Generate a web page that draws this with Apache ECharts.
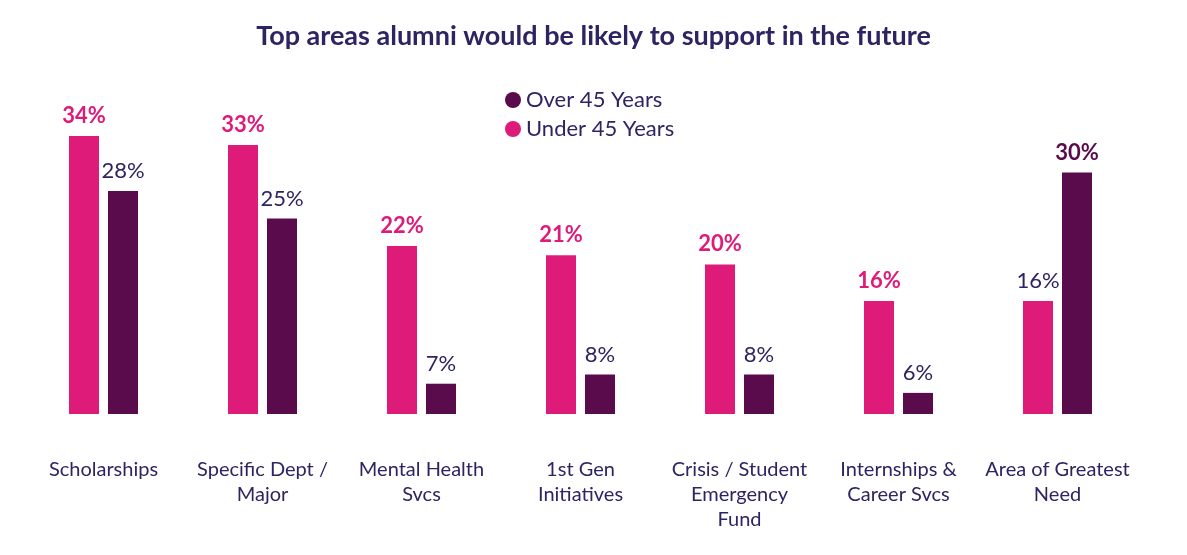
<!DOCTYPE html>
<html lang="en">
<head>
  <meta charset="UTF-8">
  <title>Top areas alumni would support</title>
  <script src="https://cdn.jsdelivr.net/npm/echarts@6/dist/echarts.min.js"></script>
</head>
<body style="margin:0;background:#fff">
  <div id="chart" style="width:1187px;height:555px;"></div>
  <script>
    const myChart = echarts.init(document.getElementById('chart'))

    const categories = ['Scholarships', 'Specific Dept /\nMajor', 'Mental Health\nSvcs', '1st Gen\nInitiatives',
      'Crisis / Student\nEmergency\nFund', 'Internships &\nCareer Svcs', 'Area of Greatest\nNeed']
    const under45 = [34, 33, 22, 21, 20, 16, 16]
    const over45 = [28, 25, 7, 8, 8, 6, 30]

    const pink = '#df1b7a'
    const plum = '#5a0b4b'
    const navy = '#2e2462'

    // the larger value in each pair gets a bold coloured label
    function labelFor(mine, other, color) {
      return mine.map((v, i) => {
        const big = v > other[i]
        return {
          value: v,
          label: {
            color: big ? color : navy,
            fontWeight: big ? 'bold' : 'normal'
          }
        }
      })
    }

    const option = {
      textStyle: { fontFamily: 'Lato, sans-serif' },
      title: {
        text: 'Top areas alumni would be likely to support in the future',
        left: 'center',
        top: 18,
        textStyle: { color: navy, fontSize: 27, fontWeight: 'bold' }
      },
      legend: {
        orient: 'vertical',
        left: 500,
        top: 84,
        itemGap: 7,
        icon: 'circle',
        itemWidth: 16,
        itemHeight: 16,
        textStyle: { color: navy, fontSize: 22 },
        data: ['Over 45 Years', 'Under 45 Years']
      },
      grid: { left: 24, right: 50, top: 90, bottom: 141 },
      xAxis: {
        type: 'category',
        data: categories,
        axisLine: { show: false },
        axisTick: { show: false },
        axisLabel: { color: navy, fontSize: 20, margin: 43, lineHeight: 25, interval: 0 }
      },
      // the original is not drawn from zero; its bars start near 3.7%
      yAxis: { type: 'value', min: 3.7, max: 39, show: false },
      series: [
        {
          type: 'bar',
          name: 'Under 45 Years',
          data: labelFor(under45, over45, pink),
          itemStyle: { color: pink },
          barWidth: 30,
          barGap: '30%',
          label: { show: true, position: 'top', distance: 9, fontSize: 22, formatter: '{c}%' }
        },
        {
          type: 'bar',
          name: 'Over 45 Years',
          data: labelFor(over45, under45, plum),
          itemStyle: { color: plum },
          barWidth: 30,
          label: { show: true, position: 'top', distance: 9, fontSize: 22, formatter: '{c}%' }
        }
      ]
    }

    myChart.setOption(option)
  </script>
</body>
</html>
